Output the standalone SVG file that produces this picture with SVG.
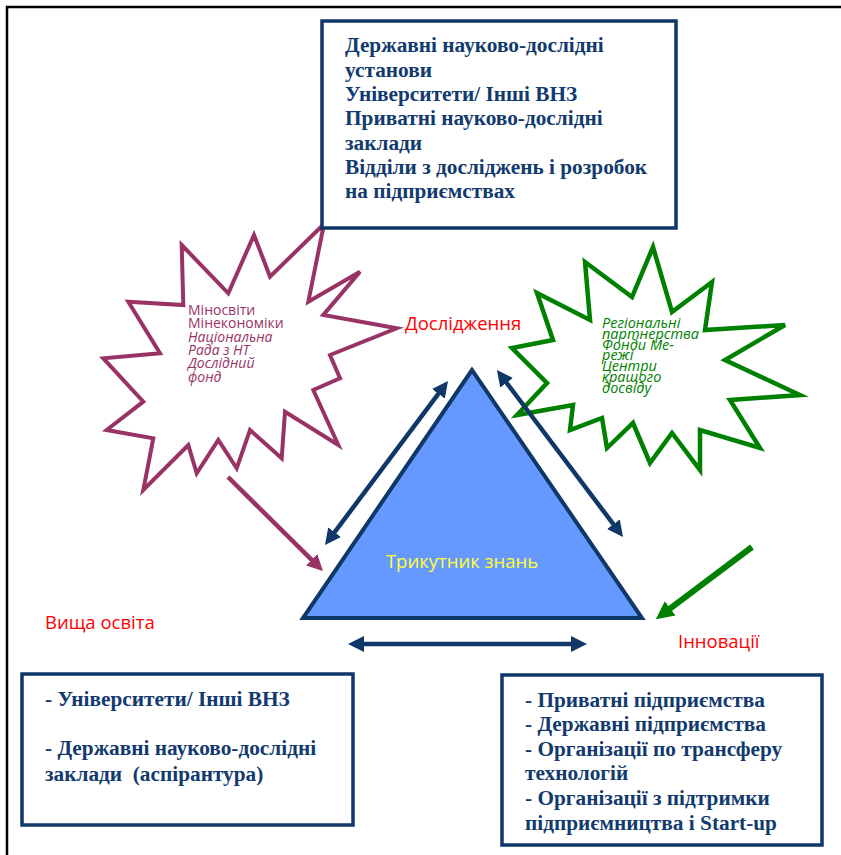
<svg xmlns="http://www.w3.org/2000/svg" width="841" height="855" viewBox="0 0 841 855">
<style>
.box{fill:#fff;stroke:#0f3768;stroke-width:3.5}
.bt{font-family:"Liberation Serif","Times New Roman",serif;font-weight:bold;font-size:21.3px;fill:#123a6e}
.red{font-family:"Open Sans","Liberation Sans",sans-serif;font-size:18.5px;fill:#ff0000}
.pt{font-family:"Open Sans","Liberation Sans",sans-serif;font-size:14px;fill:#993366}
.gt{font-family:"Open Sans","Liberation Sans",sans-serif;font-size:14.5px;font-style:italic;fill:#008000}
.dbl{stroke:#0f3768;stroke-width:4.5;fill:none;marker-start:url(#hb);marker-end:url(#hb)}
</style>
<defs>
<marker id="hb" viewBox="0 0 10 10" refX="5" refY="5" markerWidth="16" markerHeight="16" markerUnits="userSpaceOnUse" orient="auto-start-reverse"><path d="M0,0 L10,5 L0,10 z" fill="#0f3768"/></marker>
<marker id="hp" viewBox="0 0 10 10" refX="5" refY="5" markerWidth="16" markerHeight="16" markerUnits="userSpaceOnUse" orient="auto"><path d="M0,0 L10,5 L0,10 z" fill="#993366"/></marker>
<marker id="hg" viewBox="0 0 10 10" refX="5" refY="5" markerWidth="18" markerHeight="18" markerUnits="userSpaceOnUse" orient="auto"><path d="M0,0 L10,5 L0,10 z" fill="#008000"/></marker>
</defs>
<rect width="841" height="855" fill="#fff"/>
<polyline points="7,855 7,7 841,7" fill="none" stroke="#000" stroke-width="2.5"/>

<g id="purple-star">
<polygon points="181.7,245 228.3,293.3 254,235 270,276.7 324,224 308.3,301.7 360,271.7 323.3,315 396.7,328.3 330,355 340,378.3 313.3,390 338.3,445 285,411.7 281.7,458.3 250,430 236.7,468.3 218.3,440 196.7,473.3 188.3,445 143.3,490 153.3,438.3 106.7,430 143.3,401.7 103.3,358.3 160,353.3 128.3,301.7 183.3,305" fill="#fff" stroke="#993366" stroke-width="4" stroke-linejoin="miter"/>
<text class="pt" x="188" y="315">Міносвіти</text>
<text class="pt" x="188" y="328.3">Мінекономіки</text>
<text class="pt" x="188" y="341.7" font-style="italic">Національна</text>
<text class="pt" x="188" y="355" font-style="italic">Рада з НТ</text>
<text class="pt" x="188" y="368.3" font-style="italic">Дослідний</text>
<text class="pt" x="188" y="381.7" font-style="italic">фонд</text>
</g>

<g id="green-star">
<polygon points="653,247 672,312 712,282 705,330 785,325 725,360 800,395 730,400 760,448 700,430 700,470 672,433 650,463 633,423 607,448 602,418 570,430 573,405 517,415 547,383 512,348 553,340 537,293 590,320 585,262 632,297" fill="#fff" stroke="#008000" stroke-width="4.5"/>
<text class="gt" x="602" y="328.3">Регіональні</text>
<text class="gt" x="602" y="339">партнерства</text>
<text class="gt" x="602" y="349.7">Фонди Ме-</text>
<text class="gt" x="602" y="360.4">режі</text>
<text class="gt" x="602" y="371.1">Центри</text>
<text class="gt" x="602" y="381.8">кращого</text>
<text class="gt" x="602" y="392.5">досвіду</text>
</g>

<g id="research-box">
<rect class="box" x="322" y="21" width="354" height="207"/>
<text class="bt" x="345" y="52">Державні науково-дослідні</text>
<text class="bt" x="345" y="77">установи</text>
<text class="bt" x="345" y="101">Університети/ Інші ВНЗ</text>
<text class="bt" x="345" y="125">Приватні науково-дослідні</text>
<text class="bt" x="345" y="150">заклади</text>
<text class="bt" x="345" y="174">Відділи з досліджень і розробок</text>
<text class="bt" x="345" y="198">на підприємствах</text>
</g>

<g id="triangle">
<polygon points="472,370 303,618 642,618" fill="#6699ff" stroke="#0f3768" stroke-width="4" stroke-linejoin="miter"/>
<text x="462" y="568" text-anchor="middle" font-family="'Open Sans','Liberation Sans',sans-serif" font-size="18.5" fill="#ffff33">Трикутник знань</text>
</g>

<g id="label-research"><text class="red" x="405" y="330" font-size="19.8px">Дослідження</text></g>
<g id="label-higher-ed"><text class="red" x="45" y="629">Вища освіта</text></g>
<g id="label-innovation"><text class="red" x="678" y="648">Інновації</text></g>

<g id="higher-ed-box">
<rect class="box" x="22" y="674" width="331" height="151"/>
<text class="bt" x="45" y="706">- Університети/ Інші ВНЗ</text>
<text class="bt" x="45" y="755">- Державні науково-дослідні</text>
<text class="bt" x="45" y="781" xml:space="preserve">заклади  (аспірантура)</text>
</g>

<g id="innovation-box">
<rect class="box" x="502" y="675" width="320" height="170"/>
<text class="bt" x="525" y="707">- Приватні підприємства</text>
<text class="bt" x="525" y="731">- Державні підприємства</text>
<text class="bt" x="525" y="756">- Організації по трансферу</text>
<text class="bt" x="525" y="780">технологій</text>
<text class="bt" x="525" y="805">- Організації з підтримки</text>
<text class="bt" x="525" y="830">підприємництва і Start-up</text>
</g>

<g id="connectors">
<line class="dbl" x1="329.8" y1="538.6" x2="443.2" y2="387.4"/>
<line class="dbl" x1="501.8" y1="376.4" x2="618.2" y2="530.6"/>
<line class="dbl" x1="356" y1="644" x2="579" y2="644"/>
<line x1="228" y1="477" x2="317.3" y2="565.4" stroke="#993366" stroke-width="4.5" marker-end="url(#hp)"/>
<line x1="752" y1="547" x2="663" y2="613.8" stroke="#008000" stroke-width="6" marker-end="url(#hg)"/>
</g>
</svg>
